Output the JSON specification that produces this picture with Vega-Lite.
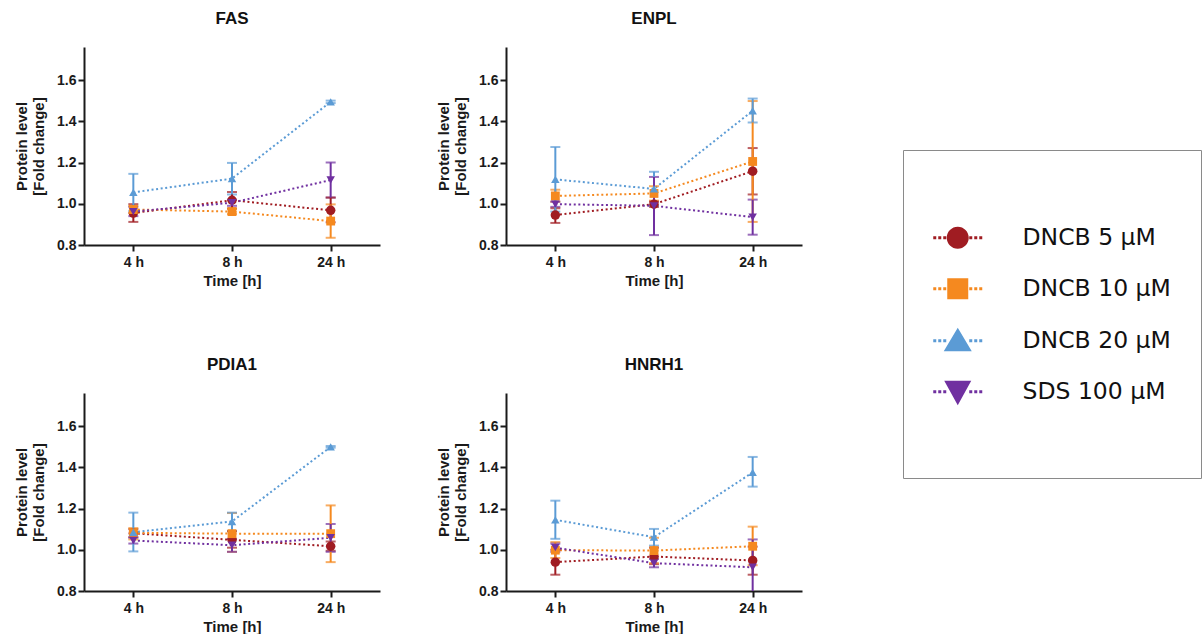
{
  "$schema": "https://vega.github.io/schema/vega-lite/v6.json",
  "padding": {"left": 14, "top": 10, "right": 0, "bottom": 0},
  "background": "white",
  "data": {"values": [
    {"protein": "FAS", "time": "4 h", "series": "DNCB 5 µM", "mean": 0.955, "lo": 0.912, "hi": 0.998},
    {"protein": "FAS", "time": "8 h", "series": "DNCB 5 µM", "mean": 1.017, "lo": 0.977, "hi": 1.057},
    {"protein": "FAS", "time": "24 h", "series": "DNCB 5 µM", "mean": 0.968, "lo": 0.91, "hi": 1.03},
    {"protein": "FAS", "time": "4 h", "series": "DNCB 10 µM", "mean": 0.972, "lo": 0.955, "hi": 0.99},
    {"protein": "FAS", "time": "8 h", "series": "DNCB 10 µM", "mean": 0.962, "lo": 0.95, "hi": 0.975},
    {"protein": "FAS", "time": "24 h", "series": "DNCB 10 µM", "mean": 0.916, "lo": 0.835, "hi": 0.997},
    {"protein": "FAS", "time": "4 h", "series": "DNCB 20 µM", "mean": 1.055, "lo": 0.965, "hi": 1.145},
    {"protein": "FAS", "time": "8 h", "series": "DNCB 20 µM", "mean": 1.122, "lo": 1.045, "hi": 1.198},
    {"protein": "FAS", "time": "24 h", "series": "DNCB 20 µM", "mean": 1.494, "lo": 1.488, "hi": 1.5},
    {"protein": "FAS", "time": "4 h", "series": "SDS 100 µM", "mean": 0.962, "lo": 0.94, "hi": 0.985},
    {"protein": "FAS", "time": "8 h", "series": "SDS 100 µM", "mean": 1.005, "lo": 0.99, "hi": 1.02},
    {"protein": "FAS", "time": "24 h", "series": "SDS 100 µM", "mean": 1.115, "lo": 1.03, "hi": 1.2},
    {"protein": "ENPL", "time": "4 h", "series": "DNCB 5 µM", "mean": 0.945, "lo": 0.907, "hi": 0.978},
    {"protein": "ENPL", "time": "8 h", "series": "DNCB 5 µM", "mean": 0.998, "lo": 0.985, "hi": 1.01},
    {"protein": "ENPL", "time": "24 h", "series": "DNCB 5 µM", "mean": 1.158, "lo": 1.045, "hi": 1.27},
    {"protein": "ENPL", "time": "4 h", "series": "DNCB 10 µM", "mean": 1.038, "lo": 1.01, "hi": 1.068},
    {"protein": "ENPL", "time": "8 h", "series": "DNCB 10 µM", "mean": 1.05, "lo": 1.015, "hi": 1.085},
    {"protein": "ENPL", "time": "24 h", "series": "DNCB 10 µM", "mean": 1.205, "lo": 0.912, "hi": 1.498},
    {"protein": "ENPL", "time": "4 h", "series": "DNCB 20 µM", "mean": 1.118, "lo": 0.962, "hi": 1.275},
    {"protein": "ENPL", "time": "8 h", "series": "DNCB 20 µM", "mean": 1.072, "lo": 0.99, "hi": 1.155},
    {"protein": "ENPL", "time": "24 h", "series": "DNCB 20 µM", "mean": 1.451, "lo": 1.394, "hi": 1.51},
    {"protein": "ENPL", "time": "4 h", "series": "SDS 100 µM", "mean": 0.998, "lo": 0.985, "hi": 1.01},
    {"protein": "ENPL", "time": "8 h", "series": "SDS 100 µM", "mean": 0.99, "lo": 0.848, "hi": 1.13},
    {"protein": "ENPL", "time": "24 h", "series": "SDS 100 µM", "mean": 0.935, "lo": 0.85, "hi": 1.02},
    {"protein": "PDIA1", "time": "4 h", "series": "DNCB 5 µM", "mean": 1.08, "lo": 1.06, "hi": 1.1},
    {"protein": "PDIA1", "time": "8 h", "series": "DNCB 5 µM", "mean": 1.048, "lo": 1.01, "hi": 1.09},
    {"protein": "PDIA1", "time": "24 h", "series": "DNCB 5 µM", "mean": 1.017, "lo": 0.995, "hi": 1.04},
    {"protein": "PDIA1", "time": "4 h", "series": "DNCB 10 µM", "mean": 1.082, "lo": 1.05, "hi": 1.105},
    {"protein": "PDIA1", "time": "8 h", "series": "DNCB 10 µM", "mean": 1.078, "lo": 0.99, "hi": 1.178},
    {"protein": "PDIA1", "time": "24 h", "series": "DNCB 10 µM", "mean": 1.078, "lo": 0.94, "hi": 1.215},
    {"protein": "PDIA1", "time": "4 h", "series": "DNCB 20 µM", "mean": 1.085, "lo": 0.992, "hi": 1.18},
    {"protein": "PDIA1", "time": "8 h", "series": "DNCB 20 µM", "mean": 1.137, "lo": 1.09, "hi": 1.18},
    {"protein": "PDIA1", "time": "24 h", "series": "DNCB 20 µM", "mean": 1.499, "lo": 1.495, "hi": 1.503},
    {"protein": "PDIA1", "time": "4 h", "series": "SDS 100 µM", "mean": 1.045, "lo": 1.03, "hi": 1.06},
    {"protein": "PDIA1", "time": "8 h", "series": "SDS 100 µM", "mean": 1.022, "lo": 0.99, "hi": 1.052},
    {"protein": "PDIA1", "time": "24 h", "series": "SDS 100 µM", "mean": 1.058, "lo": 0.99, "hi": 1.125},
    {"protein": "HNRH1", "time": "4 h", "series": "DNCB 5 µM", "mean": 0.94, "lo": 0.879, "hi": 1.0},
    {"protein": "HNRH1", "time": "8 h", "series": "DNCB 5 µM", "mean": 0.967, "lo": 0.93, "hi": 1.01},
    {"protein": "HNRH1", "time": "24 h", "series": "DNCB 5 µM", "mean": 0.948, "lo": 0.879, "hi": 1.015},
    {"protein": "HNRH1", "time": "4 h", "series": "DNCB 10 µM", "mean": 0.998, "lo": 0.96, "hi": 1.037},
    {"protein": "HNRH1", "time": "8 h", "series": "DNCB 10 µM", "mean": 0.996, "lo": 0.935, "hi": 1.058},
    {"protein": "HNRH1", "time": "24 h", "series": "DNCB 10 µM", "mean": 1.017, "lo": 0.925, "hi": 1.112},
    {"protein": "HNRH1", "time": "4 h", "series": "DNCB 20 µM", "mean": 1.145, "lo": 1.053, "hi": 1.238},
    {"protein": "HNRH1", "time": "8 h", "series": "DNCB 20 µM", "mean": 1.061, "lo": 1.02, "hi": 1.101},
    {"protein": "HNRH1", "time": "24 h", "series": "DNCB 20 µM", "mean": 1.375, "lo": 1.306, "hi": 1.45},
    {"protein": "HNRH1", "time": "4 h", "series": "SDS 100 µM", "mean": 1.01, "lo": 0.99, "hi": 1.03},
    {"protein": "HNRH1", "time": "8 h", "series": "SDS 100 µM", "mean": 0.935, "lo": 0.915, "hi": 0.955},
    {"protein": "HNRH1", "time": "24 h", "series": "SDS 100 µM", "mean": 0.915, "lo": 0.78, "hi": 1.05}
  ]},
  "facet": {
    "field": "protein", "type": "nominal",
    "sort": ["FAS", "ENPL", "PDIA1", "HNRH1"],
    "title": null,
    "header": {"labelFont": "Liberation Sans", "labelFontSize": 17, "labelFontWeight": "bold", "labelColor": "#111111", "labelPadding": 19}
  },
  "columns": 2,
  "spacing": {"column": 56, "row": 68},
  "resolve": {"axis": {"x": "independent", "y": "independent"}},
  "spec": {
    "width": 296,
    "height": 198,
    "encoding": {
      "x": {"field": "time", "type": "ordinal", "sort": ["4 h", "8 h", "24 h"], "scale": {"type": "point", "padding": 0.5}, "title": "Time [h]"},
      "color": {"field": "series", "type": "nominal",
        "scale": {"domain": ["DNCB 5 µM", "DNCB 10 µM", "DNCB 20 µM", "SDS 100 µM"], "range": ["#a01c22", "#f5891f", "#5b9bd5", "#7030a0"]},
        "legend": {"title": " "}}
    },
    "layer": [
      {
        "mark": {"type": "line", "strokeDash": [2, 2.6], "strokeWidth": 2},
        "encoding": {"y": {"field": "mean", "type": "quantitative",
          "title": ["Protein level", "[Fold change]"],
          "scale": {"domain": [0.8, 1.76], "nice": false, "zero": false},
          "axis": {"values": [0.8, 1.0, 1.2, 1.4, 1.6], "format": ".1f"}}}
      },
      {
        "mark": {"type": "errorbar", "clip": true, "thickness": 2, "ticks": {"size": 10, "thickness": 2}},
        "encoding": {"y": {"field": "lo", "type": "quantitative", "title": ["Protein level", "[Fold change]"]}, "y2": {"field": "hi"}}
      },
      {
        "transform": [{"filter": "datum.series === 'DNCB 5 µM'"}],
        "mark": {"type": "point", "shape": "circle", "filled": true, "size": 90, "opacity": 1},
        "encoding": {"y": {"field": "mean", "type": "quantitative", "title": ["Protein level", "[Fold change]"]}}
      },
      {
        "transform": [{"filter": "datum.series === 'DNCB 10 µM'"}],
        "mark": {"type": "point", "shape": "square", "filled": true, "size": 78, "opacity": 1},
        "encoding": {"y": {"field": "mean", "type": "quantitative", "title": ["Protein level", "[Fold change]"]}}
      },
      {
        "transform": [{"filter": "datum.series === 'DNCB 20 µM'"}],
        "mark": {"type": "point", "shape": "triangle-up", "filled": true, "size": 72, "opacity": 1},
        "encoding": {"y": {"field": "mean", "type": "quantitative", "title": ["Protein level", "[Fold change]"]}}
      },
      {
        "transform": [{"filter": "datum.series === 'SDS 100 µM'"}],
        "mark": {"type": "point", "shape": "triangle-down", "filled": true, "size": 72, "opacity": 1},
        "encoding": {"y": {"field": "mean", "type": "quantitative", "title": ["Protein level", "[Fold change]"]}}
      },
      {
        "transform": [{"filter": "false"}],
        "mark": {"type": "point", "filled": true, "opacity": 1},
        "encoding": {
          "y": {"field": "mean", "type": "quantitative", "title": ["Protein level", "[Fold change]"]},
          "shape": {"field": "series", "type": "nominal",
            "scale": {"domain": ["DNCB 5 µM", "DNCB 10 µM", "DNCB 20 µM", "SDS 100 µM"],
              "range": [
                "M0,0M0,-2.5M0,2.5M-1.1,0A1.1,1.1,0,1,1,1.1,0A1.1,1.1,0,1,1,-1.1,0ZM-2.45,-0.15H-2.15V0.15H-2.45ZM-1.95,-0.15H-1.65V0.15H-1.95ZM-1.45,-0.15H-1.15V0.15H-1.45ZM1.15,-0.15H1.45V0.15H1.15ZM1.65,-0.15H1.95V0.15H1.65ZM2.15,-0.15H2.45V0.15H2.15Z",
                "M0,0M0,-2.55M0,2.55M-1.05,-1.05H1.05V1.05H-1.05ZM-2.45,-0.15H-2.15V0.15H-2.45ZM-1.95,-0.15H-1.65V0.15H-1.95ZM-1.45,-0.15H-1.15V0.15H-1.45ZM1.15,-0.15H1.45V0.15H1.15ZM1.65,-0.15H1.95V0.15H1.65ZM2.15,-0.15H2.45V0.15H2.15Z",
                "M0,0M0,-2.5M0,2.5M0,-1.3L1.4,1.05L-1.4,1.05ZM-2.45,-0.15H-2.15V0.15H-2.45ZM-1.95,-0.15H-1.65V0.15H-1.95ZM-1.45,-0.15H-1.15V0.15H-1.45ZM1.15,-0.15H1.45V0.15H1.15ZM1.65,-0.15H1.95V0.15H1.65ZM2.15,-0.15H2.45V0.15H2.15Z",
                "M0,0M0,-2.5M0,5.6M0,1.35L-1.35,-1.1L1.35,-1.1ZM-2.45,-0.15H-2.15V0.15H-2.45ZM-1.95,-0.15H-1.65V0.15H-1.95ZM-1.45,-0.15H-1.15V0.15H-1.45ZM1.15,-0.15H1.45V0.15H1.15ZM1.65,-0.15H1.95V0.15H1.65ZM2.15,-0.15H2.45V0.15H2.15Z"
              ]},
            "legend": {"title": " "}}
        }
      }
    ]
  },
  "config": {
    "view": {"stroke": null},
    "axis": {"grid": false, "domainColor": "#1a1a1a", "domainWidth": 2, "tickColor": "#1a1a1a", "tickWidth": 2, "tickSize": 6,
      "labelFont": "Liberation Sans", "labelFontWeight": "bold", "labelFontSize": 14, "labelColor": "#1a1a1a",
      "titleFont": "Liberation Sans", "titleFontWeight": "bold", "titleFontSize": 15, "titleColor": "#1a1a1a"},
    "axisY": {"labelPadding": 2, "titlePadding": 10, "titleLineHeight": 17},
    "axisX": {"labelAngle": 0, "labelPadding": 4, "titlePadding": 4},
    "legend": {"orient": "none", "legendX": 819, "legendY": 103, "padding": 30, "strokeColor": "#8a8a8a",
      "titleFontSize": 18, "titlePadding": 28, "titleFont": "DejaVu Sans",
      "labelFont": "DejaVu Sans", "labelFontSize": 23.5, "labelColor": "#111111", "labelOffset": 53, "symbolOffset": 13, "rowPadding": 0,
      "symbolStrokeWidth": 0, "symbolSize": 400, "symbolOpacity": 1, "labelLimit": 300}
  }
}
